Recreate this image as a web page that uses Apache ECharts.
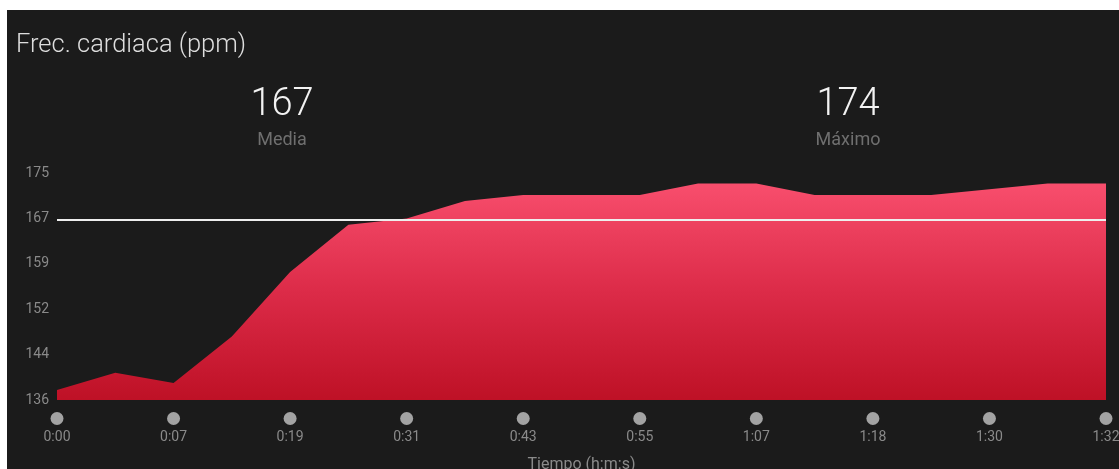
<!DOCTYPE html>
<html>
<head>
<meta charset="utf-8">
<script src="https://cdn.jsdelivr.net/npm/echarts@6/dist/echarts.min.js"></script>
<style>
  html, body { margin: 0; padding: 0; background: #ffffff; width: 1119px; height: 469px; overflow: hidden; }
  #chart { position: absolute; left: 7px; top: 10px; width: 1112px; height: 459px; }
</style>
</head>
<body>
<div id="chart"></div>
<script>
// Heart rate samples (ppm), evenly spaced along the time axis
const heartRate = [137.7, 140.7, 138.9, 146.9, 158.0, 166.1, 167.2, 170.2, 171.2, 171.2,
                   171.2, 173.2, 173.2, 171.2, 171.2, 171.2, 172.2, 173.2, 173.2];
// Time labels shown under every second sample
const timeLabels = ['0:00', '0:07', '0:19', '0:31', '0:43', '0:55', '1:07', '1:18', '1:30', '1:32'];
// Y tick labels (rounded from an even 136..175 scale)
const yTickLabels = ['136', '144', '152', '159', '167', '175'];
const yMin = 136;
const yMax = 175;
const average = 167;
const maximum = 174;

const categories = heartRate.map((v, i) => (i % 2 === 0 ? timeLabels[i / 2] : ''));

const chart = echarts.init(document.getElementById('chart'), null, { renderer: 'canvas' });

const option = {
  backgroundColor: '#1b1b1b',
  animation: false,
  textStyle: { fontFamily: 'Roboto' },
  grid: { left: 50, right: 13, top: 163, bottom: 69, containLabel: false, outerBoundsMode: 'none' },
  graphic: [
    { type: 'text', left: 9, top: 23, style: { text: 'Frec. cardiaca (ppm)', fill: '#dedede', font: '300 25.5px Roboto' } },
    { type: 'text', x: 275, y: 95, style: { text: String(average), fill: '#f2f2f2', font: '300 38px Roboto', align: 'center', verticalAlign: 'middle' } },
    { type: 'text', x: 275, y: 130, style: { text: 'Media', fill: '#6f6f6f', font: '400 18px Roboto', align: 'center', verticalAlign: 'middle' } },
    { type: 'text', x: 841, y: 95, style: { text: String(maximum), fill: '#f2f2f2', font: '300 38px Roboto', align: 'center', verticalAlign: 'middle' } },
    { type: 'text', x: 841, y: 130, style: { text: 'Máximo', fill: '#6f6f6f', font: '400 18px Roboto', align: 'center', verticalAlign: 'middle' } }
  ],
  xAxis: {
    type: 'category',
    data: categories,
    boundaryGap: false,
    axisLine: { show: false },
    axisTick: { show: false },
    splitLine: { show: false },
    name: 'Tiempo (h:m:s)',
    nameLocation: 'middle',
    nameGap: 57,
    nameTextStyle: { color: '#8a8a8a', fontSize: 16 },
    axisLabel: {
      interval: 1,
      margin: 12,
      formatter: function (v) { return '{dot|}\n{t|' + v + '}'; },
      rich: {
        dot: { width: 13, height: 13, borderRadius: 7, backgroundColor: '#a3a3a3', padding: 0 },
        t: { color: '#8a8a8a', fontSize: 14, lineHeight: 22, padding: [2, 0, 0, 0] }
      }
    }
  },
  yAxis: [
    {
      type: 'value',
      min: yMin,
      max: yMax,
      show: false,
      splitLine: { show: false }
    },
    {
      type: 'value',
      position: 'left',
      min: 0,
      max: yTickLabels.length - 1,
      interval: 1,
      axisLine: { show: false },
      axisTick: { show: false },
      splitLine: { show: false },
      axisLabel: {
        color: '#8a8a8a',
        fontSize: 14,
        margin: 8,
        formatter: function (v) { return yTickLabels[v]; }
      }
    }
  ],
  series: [
    {
      type: 'line',
      yAxisIndex: 0,
      data: heartRate,
      symbol: 'none',
      lineStyle: { width: 0 },
      areaStyle: {
        opacity: 1,
        origin: 'start',
        color: new echarts.graphic.LinearGradient(0, 0, 0, 1, [
          { offset: 0, color: '#f84e6d' },
          { offset: 0.5, color: '#dc2b48' },
          { offset: 1, color: '#be1126' }
        ])
      },
      markLine: {
        silent: true,
        symbol: ['none', 'none'],
        label: { show: false },
        lineStyle: { color: '#eeeeee', width: 2, type: 'solid' },
        data: [{ yAxis: average }]
      }
    }
  ]
};

chart.setOption(option);
</script>
</body>
</html>
